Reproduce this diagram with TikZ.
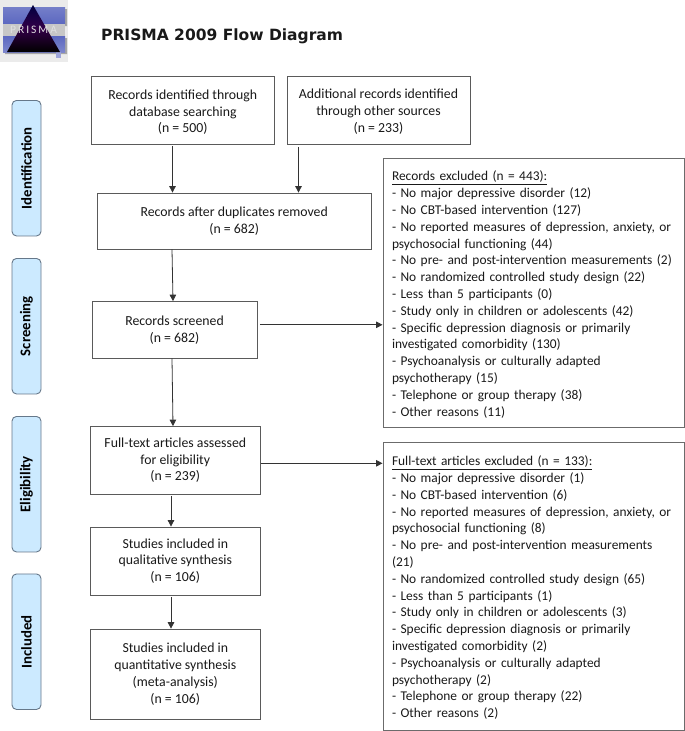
\documentclass[tikz,border=0pt]{standalone}
\usepackage{fontspec}
\setmainfont{Carlito}
\newfontfamily\titlefont{DejaVu Sans}
\usetikzlibrary{positioning,arrows.meta,calc}
\definecolor{edgegray}{HTML}{5A5A5A}
\definecolor{sideblue}{HTML}{CCEAFF}
\definecolor{sideedge}{HTML}{66788A}
\definecolor{logoblue}{HTML}{5C68C0}
\tikzset{
  flowbox/.style={draw=edgegray,line width=0.8pt,fill=white,align=center,text=black!90,inner sep=2pt,
    font=\fontsize{13.8}{16.8}\selectfont},
  listbox/.style={draw=edgegray!90,line width=0.9pt,fill=white,align=left,text=black!90,inner sep=0pt,
    text width=283pt,minimum width=301pt,font=\fontsize{13.4}{16.8}\selectfont},
  sidebox/.style={draw=sideedge,line width=0.9pt,fill=sideblue,rounded corners=4.5pt,rotate=90,
    minimum width=135.5pt,minimum height=29pt,inner sep=0pt,text=black,font=\fontsize{14.8}{16}\selectfont\bfseries},
  flow/.style={draw=black!80,line width=0.8pt,-{Triangle[length=6.5pt,width=6.5pt]}}
}
\begin{document}
\begin{tikzpicture}[x=1pt,y=-1pt]
  \useasboundingbox (0,0) rectangle (685,731);
  % logo
  \fill[black!8] (0,0) rectangle (68,62);
  \fill[black!35] (5,9) rectangle (67,26) (5,38) rectangle (67,54);
  \shade[top color=logoblue!85!white,bottom color=logoblue] (3,7) rectangle (65,24);
  \fill[black!22] (3,24) rectangle (65,36);
  \shade[top color=logoblue,bottom color=logoblue!80!white] (3,36) rectangle (65,52);
  \fill[logoblue!60] (56,52) rectangle (61,58);
  \shade[top color=black!75!blue,bottom color=black,middle color=black!65!blue!80!red] (33,5) -- (60,52) -- (7,52) -- cycle;
  \node[text=white!88!black,font=\fontsize{11.5}{12}\selectfont\rmfamily,inner sep=0pt] (logotext) at (33.5,29.8) {P\kern2pt R\kern2pt I\kern2pt S\kern2pt M\kern2pt A};
  \node[anchor=base west,inner sep=0pt,text=black!90,font=\titlefont\fontsize{15.5}{17}\selectfont\bfseries] (title) at (101,40) {PRISMA 2009 Flow Diagram};
  % phases
  \node[sidebox] (identification) at (26.5,168.2) {Identification};
  \node[sidebox] (screening) at (26.5,326.2) {Screening};
  \node[sidebox] (eligibility) at (26.5,484.2) {Eligibility};
  \node[sidebox] (included) at (26.5,641.7) {Included};
  % flow boxes
  \node[flowbox,minimum width=183.5pt,minimum height=68pt] (database) at (182.8,110) {\rule{0pt}{14pt}Records identified through\\database searching\\(n = 500)};
  \node[flowbox,minimum width=183pt,minimum height=68pt] (other) at (378.5,110) {\rule{0pt}{13pt}Additional records identified\\through other sources\\(n = 233)};
  \node[flowbox,minimum width=273.5pt,minimum height=56pt] (duplicates) at (234.2,221) {Records after duplicates removed\\(n = 682)};
  \node[flowbox,minimum width=165pt,minimum height=56.5pt] (screened) at (174.5,329.8) {Records screened\\(n = 682)};
  \node[flowbox,minimum width=169.5pt,minimum height=67.5pt] (fulltext) at (175.3,460.3) {Full-text articles assessed\\for eligibility\\(n = 239)};
  \node[flowbox,minimum width=169.5pt,minimum height=68pt] (qualitative) at (175.3,561) {Studies included in\\qualitative synthesis\\(n = 106)};
  \node[flowbox,minimum width=169.5pt,minimum height=90.5pt] (quantitative) at (175.3,674.3) {Studies included in\\quantitative synthesis\\(meta-analysis)\\(n = 106)};
  % exclusion lists
  \node[listbox,minimum height=269pt] (excluded) at (533.5,292.5) {\rule{0pt}{14pt}\underline{Records excluded (n = 443):}\\
    - No major depressive disorder (12)\\
    - No CBT-based intervention (127)\\
    - No reported measures of depression, anxiety, or\\
    psychosocial functioning (44)\\
    - No pre- and post-intervention measurements (2)\\
    - No randomized controlled study design (22)\\
    - Less than 5 participants (0)\\
    - Study only in children or adolescents (42)\\
    - Specific depression diagnosis or primarily\\
    investigated comorbidity (130)\\
    - Psychoanalysis or culturally adapted\\
    psychotherapy (15)\\
    - Telephone or group therapy (38)\\
    - Other reasons (11)};
  \node[listbox,minimum height=287.5pt] (fullexcluded) at (533.5,586.2) {\rule{0pt}{13pt}\underline{Full-text articles excluded (n = 133):}\\
    - No major depressive disorder (1)\\
    - No CBT-based intervention (6)\\
    - No reported measures of depression, anxiety, or\\
    psychosocial functioning (8)\\
    - No pre- and post-intervention measurements\\
    (21)\\
    - No randomized controlled study design (65)\\
    - Less than 5 participants (1)\\
    - Study only in children or adolescents (3)\\
    - Specific depression diagnosis or primarily\\
    investigated comorbidity (2)\\
    - Psychoanalysis or culturally adapted\\
    psychotherapy (2)\\
    - Telephone or group therapy (22)\\
    - Other reasons (2)};
  % connectors
  \draw[flow] ([xshift=-10.3pt,yshift=-2pt]database.south) -- ([xshift=-61.7pt]duplicates.north);
  \draw[flow] ([xshift=-80pt,yshift=-2.5pt]other.south) -- ([xshift=64.3pt]duplicates.north);
  \draw[flow] ([xshift=-62.2pt]duplicates.south) -- ([xshift=-1.5pt]screened.north);
  \draw[flow] ([xshift=-2.5pt]screened.south) -- ([xshift=-2.3pt]fulltext.north);
  \draw[flow] ([xshift=-4.3pt,yshift=-1.5pt]fulltext.south) -- ([xshift=-4.3pt]qualitative.north);
  \draw[flow] ([xshift=-4.3pt,yshift=-2pt]qualitative.south) -- ([xshift=-4.3pt]quantitative.north);
  \draw[flow] ([xshift=2.5pt,yshift=5pt]screened.east) -- ([yshift=5pt]screened.east -| excluded.west);
  \draw[flow] ([xshift=1pt,yshift=-3pt]fulltext.east) -- ([yshift=-3pt]fulltext.east -| fullexcluded.west);
\end{tikzpicture}
\end{document}
